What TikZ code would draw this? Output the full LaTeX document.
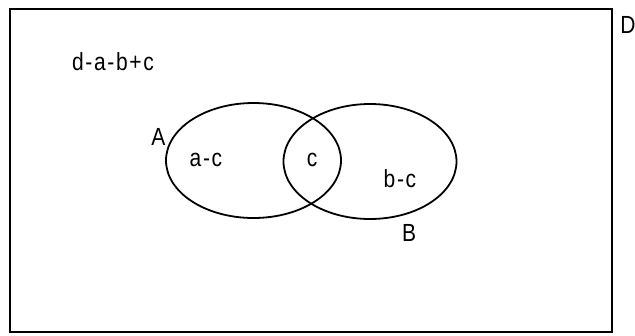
\documentclass[tikz,border=0pt]{standalone}
\usepackage{fontspec}
\setmainfont{Liberation Sans}[LetterSpace=8]
\usetikzlibrary{shapes.geometric}
\newcommand{\tallt}[1]{\scalebox{1}[1.18]{#1}}
\begin{document}
\begin{tikzpicture}[x=1pt,y=-1pt,
  lbl/.style={inner sep=0pt, font=\fontsize{21}{24}\selectfont},
  setshape/.style={ellipse, draw, line width=1.8pt, inner sep=0pt},
  frame/.style={draw, line width=1.4pt}]
\useasboundingbox (0,0) rectangle (635,335);
\node[frame, minimum width=602pt, minimum height=323pt, inner sep=0pt] (U) at (311,170.5) {};
\node[setshape, minimum width=175pt, minimum height=115pt] (A) at (253.5,160.5) {};
\node[setshape, minimum width=173pt, minimum height=115pt] (B) at (370,161.5) {};
\node[lbl] (D) at (628,25) {\tallt{D}};
\node[lbl] (dabc) at (113,62) {\tallt{d-a-b+c}};
\node[lbl] (lA) at (158.5,136.5) {\tallt{A}};
\node[lbl] (lB) at (409,233) {\tallt{B}};
\node[lbl] (ac) at (206,160) {\tallt{a-c}};
\node[lbl] (c) at (312,160) {\tallt{c}};
\node[lbl] (bc) at (400,179) {\tallt{b-c}};
\end{tikzpicture}
\end{document}
